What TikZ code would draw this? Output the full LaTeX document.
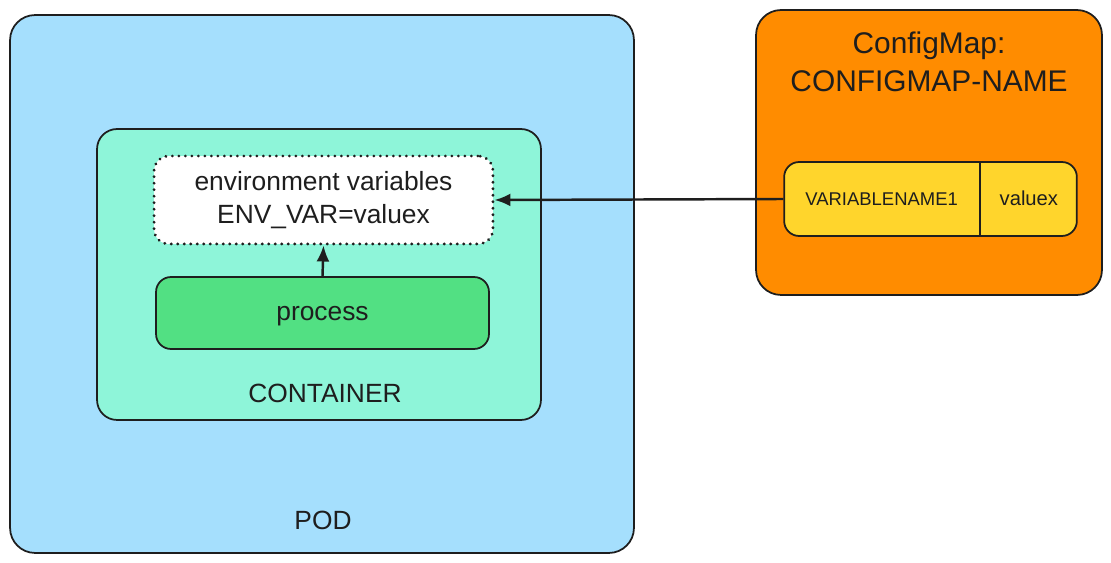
\documentclass[tikz,border=0pt]{standalone}
\usepackage{fontspec}
\setmainfont{Liberation Sans}
\usetikzlibrary{arrows.meta,shapes.multipart}
\definecolor{ink}{HTML}{1E1E1E}
\definecolor{podblue}{HTML}{A5DFFD}
\definecolor{contgreen}{HTML}{8EF5D9}
\definecolor{procgreen}{HTML}{52E083}
\definecolor{cmorange}{HTML}{FF8C00}
\definecolor{cellyellow}{HTML}{FFD52C}

\begin{document}
\begin{tikzpicture}[x=0.02cm, y=-0.02cm, color=ink, line width=1pt, >={Latex[length=3.2mm, width=2.6mm]},
    box/.style = {draw, rounded corners=0.4cm},
    dotbox/.style = {draw, fill=white, rounded corners=0.3cm, dash pattern=on 0.1pt off 3.6pt, line cap=round, line width=1.7pt, align=center, font=\fontsize{15}{19}\selectfont},
    txt/.style = {font=\fontsize{15}{18}\selectfont},
    link/.style = {->, line width=1.4pt},
    rowcells/.style = {draw, fill=cellyellow, rounded corners=0.3cm, rectangle split, rectangle split horizontal, rectangle split parts=2, inner xsep=0.2cm, inner ysep=0pt}]
    \useasboundingbox (0,0) rectangle (1111,563);
    \node[box, fill=podblue, minimum width=12.48cm, minimum height=10.76cm, rounded corners=0.5cm] (pod) at (322,284) {};
    \node[box, fill=contgreen, minimum width=8.88cm, minimum height=5.82cm] (container) at (319,274.5) {};
    \node[dotbox, minimum width=6.78cm, minimum height=1.76cm] (env) at (323.5,200) {environment variables\\ENV\_VAR=valuex};
    \node[box, fill=procgreen, minimum width=6.66cm, minimum height=1.44cm, rounded corners=0.3cm, txt, text depth=0pt] (process) at (322.5,313) {process};
    \node[txt] (containerlabel) at (325,393) {CONTAINER};
    \node[txt] (podlabel) at (323,520) {POD};
    \node[box, fill=cmorange, minimum width=6.92cm, minimum height=5.7cm, rounded corners=0.5cm] (configmap) at (929,152.5) {};
    \node[align=center, font=\fontsize{17}{21.5}\selectfont] (cmtitle) at (929,61.5) {ConfigMap:\\CONFIGMAP-NAME};
    \node[rowcells] (cmrow) at (930.5,199) {\makebox[3.5cm]{\rule[-0.61cm]{0pt}{1.48cm}\fontsize{10.5}{12}\selectfont VARIABLENAME1}\nodepart{two}\makebox[1.52cm]{\rule[-0.61cm]{0pt}{1.48cm}\fontsize{11.5}{13}\selectfont valuex}};
    \draw[link] (cmrow.west) -- (env.east);
    \draw[link] (process.north) -- (env.south);
\end{tikzpicture}
\end{document}
